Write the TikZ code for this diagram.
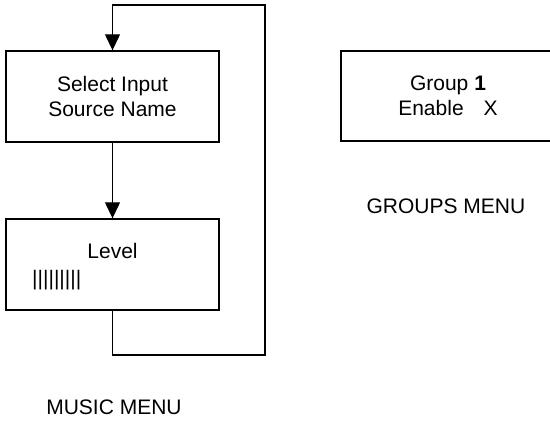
\documentclass[tikz,border=0pt]{standalone}
\usepackage{fontspec}
\setmainfont{Liberation Sans}
\usetikzlibrary{arrows.meta}
\begin{document}
\begin{tikzpicture}[x=1pt,y=-1pt,
  txt/.style={font=\fontsize{21}{24}\selectfont, inner sep=0pt},
  menubox/.style={draw, line width=1.4pt, minimum width=213pt, minimum height=91pt, inner sep=0pt, align=center, font=\fontsize{21}{25}\selectfont},
  conn/.style={line width=1.3pt},
  arr/.style={conn, -{Triangle[length=16pt,width=15pt]}}]
\useasboundingbox (0,0) rectangle (550,424);
\clip (0,0) rectangle (550,424);
\node[menubox] (sel) at (112.5,96.5) {Select Input\\Source Name};
\node[menubox] (lvl) at (112.5,264.5) {};
\node[txt, anchor=base] (lvltxt) at (112.5,258) {Level};
\node[txt, anchor=base west] (bars) at (32,285) {|||||||||};
\node[menubox, minimum width=214pt, minimum height=90pt] (grp) at (448,96) {Group \textbf{1}\\Enable\hspace{20pt}X};
\node[txt, anchor=base] (grpmenu) at (446,213) {GROUPS MENU};
\node[txt, anchor=base] (musmenu) at (114,414) {MUSIC MENU};
\coordinate (c1) at (112.5,355);
\coordinate (c2) at (265,355);
\coordinate (c3) at (265,5);
\coordinate (c4) at (112.5,5);
\draw[arr] (sel.south) -- (lvl.north);
\draw[arr] (lvl.south) -- (c1) -- (c2) -- (c3) -- (c4) -- (sel.north);
\end{tikzpicture}
\end{document}
